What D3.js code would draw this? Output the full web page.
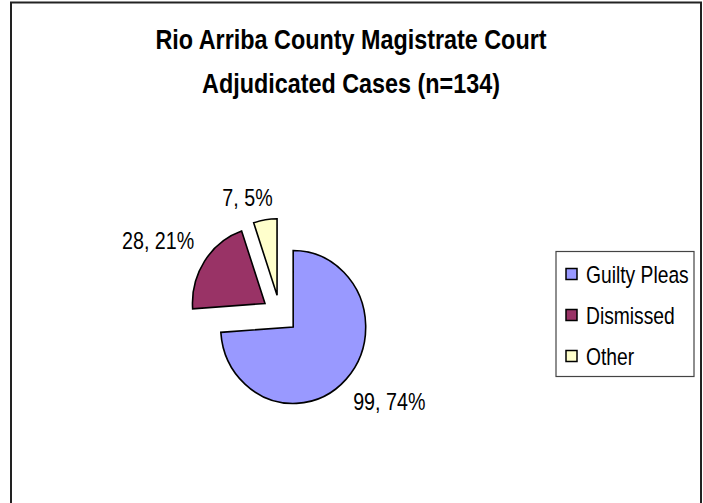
<!DOCTYPE html>
<html>
<head>
<meta charset="utf-8">
<script src="https://cdn.jsdelivr.net/npm/d3@7"></script>
<style>
  html, body { margin: 0; padding: 0; background: #fff; }
  svg { display: block; }
  text { font-family: "Liberation Sans", Arial, sans-serif; fill: #000; }
</style>
</head>
<body>
<svg id="chart" width="703" height="503"></svg>
<script>
// ---- data ----
const titleLines = ["Rio Arriba County Magistrate Court", "Adjudicated Cases (n=134)"];
const categories = ["Guilty Pleas", "Dismissed", "Other"];
const values = [99, 28, 7];
const percentLabels = ["74%", "21%", "5%"];
const colors = ["#9999FF", "#993366", "#FFFFCC"];

const W = 703, H = 503;
const NARROW = 0.82;   // horizontal condensing to mimic a narrow typeface
const svg = d3.select("#chart");

// chart area border
svg.append("rect")
  .attr("x", 11).attr("y", 2.5)
  .attr("width", 690).attr("height", 520)
  .attr("fill", "#fff").attr("stroke", "#222").attr("stroke-width", 2);

// title
titleLines.forEach((t, i) => {
  svg.append("text")
    .attr("transform", `translate(351,${49 + i * 44}) scale(${NARROW},1)`)
    .attr("text-anchor", "middle")
    .style("font-size", "28.5px").style("font-weight", "bold")
    .text(t);
});

// pie
const cx = 280, cy = 314;
const R = 76.5, sx = 0.948, explode = 19;
const data = categories.map((c, i) => ({ cat: c, value: values[i], pct: percentLabels[i], color: colors[i] }));
const pie = d3.pie().sort(null).value(d => d.value).startAngle(0);
const arcs = pie(data);
const arc = d3.arc().innerRadius(0).outerRadius(R);

const g = svg.append("g").attr("transform", `translate(${cx},${cy}) scale(${sx},1)`);
g.selectAll("path").data(arcs).join("path")
  .attr("d", arc)
  .attr("transform", d => {
    const a = (d.startAngle + d.endAngle) / 2;
    return `translate(${explode * Math.sin(a)},${-explode * Math.cos(a)})`;
  })
  .attr("fill", d => d.data.color)
  .attr("stroke", "#000")
  .attr("stroke-width", 1.6)
  .attr("stroke-linejoin", "miter")
  .attr("vector-effect", "non-scaling-stroke");

// data labels: anchored outside each slice, text runs away from the pie
const labelFont = 24;
const labelRadius = 116.7;
const labelTurn = 5.6 * Math.PI / 180;
const lbl = svg.append("g");
arcs.forEach(d => {
  const a = (d.startAngle + d.endAngle) / 2 + labelTurn;
  const dx = Math.sin(a), dy = -Math.cos(a);
  const px = cx + labelRadius * dx * sx;
  const py = cy + labelRadius * dy;
  lbl.append("text")
    .style("font-size", labelFont + "px")
    .attr("text-anchor", dx >= 0 ? "start" : "end")
    .attr("transform", `translate(${px},${py + labelFont * 0.358}) scale(${NARROW},1)`)
    .text(`${d.data.value}, ${d.data.pct}`);
});

// legend
const lg = svg.append("g");
lg.append("rect")
  .attr("x", 556).attr("y", 251.5).attr("width", 138).attr("height", 125)
  .attr("fill", "#fff").attr("stroke", "#444").attr("stroke-width", 1.2);
const rowY = d3.scalePoint().domain(categories).range([274, 356]);
const items = lg.selectAll("g.item").data(data).join("g").attr("class", "item")
  .attr("transform", d => `translate(0,${rowY(d.cat)})`);
items.append("rect")
  .attr("x", 566).attr("y", -5.5).attr("width", 11).attr("height", 11)
  .attr("fill", d => d.color).attr("stroke", "#000").attr("stroke-width", 1.5);
items.append("text")
  .attr("transform", `translate(586,8.5) scale(${NARROW},1)`)
  .style("font-size", "23.5px")
  .text(d => d.cat);
</script>
</body>
</html>
